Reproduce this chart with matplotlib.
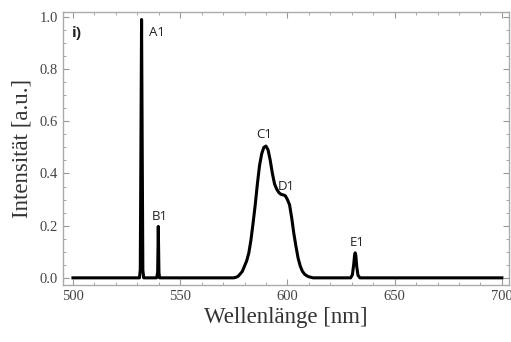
import numpy as np
import matplotlib.pyplot as plt
from matplotlib.ticker import MultipleLocator

# spectrum (wavelength in nm, intensity in a.u.)
wavelength = [500, 531.0, 531.4, 531.7, 532.0, 532.3, 532.6, 533.0,
              539.0, 539.5, 539.8, 540.1, 540.4, 541.0,
              575, 576, 577, 578, 579, 580, 581, 582, 583, 584, 585, 586, 587,
              588, 589, 590, 591, 592, 593, 594, 595, 596, 597, 598, 599, 600,
              601, 602, 603, 604, 605, 606, 607, 608, 609, 610, 611, 612,
              629.5, 630.3, 630.9, 631.3, 631.6, 631.9, 632.3, 632.9, 633.8, 700]
intensity = [0.0, 0.0, 0.03, 0.5, 0.99, 0.5, 0.03, 0.0,
             0.0, 0.02, 0.197, 0.02, 0.0, 0.0,
             0.0, 0.002, 0.006, 0.015, 0.025, 0.045, 0.065, 0.095, 0.145, 0.21,
             0.28, 0.36, 0.43, 0.475, 0.50, 0.505, 0.49, 0.45, 0.40, 0.36, 0.34,
             0.327, 0.32, 0.318, 0.315, 0.30, 0.28, 0.23, 0.17, 0.12, 0.075,
             0.045, 0.025, 0.014, 0.008, 0.004, 0.002, 0.0,
             0.0, 0.012, 0.05, 0.085, 0.096, 0.085, 0.045, 0.01, 0.0, 0.0]

peak_names = ['A1', 'B1', 'C1', 'D1', 'E1']
peak_label_x = [539.0, 540.3, 589.3, 599.5, 632.4]
peak_label_y = [0.94, 0.235, 0.548, 0.35, 0.134]

fig = plt.figure(figsize=(5.11, 3.42), dpi=100)
ax = fig.add_axes([0.123, 0.167, 0.873, 0.798])

ax.plot(wavelength, intensity, color='black', lw=2.2, solid_joinstyle='round')

for name, x, y in zip(peak_names, peak_label_x, peak_label_y):
    ax.text(x, y, name, ha='center', va='center', fontsize=9.5,
            family='Open Sans', color='#222222')
ax.text(502, 0.94, 'i)', ha='center', va='center', fontsize=11,
        family='Open Sans', fontweight='bold', color='#222222')

ax.set_xlim(495.3, 703.3)
ax.set_ylim(-0.027, 1.019)
ax.xaxis.set_major_locator(MultipleLocator(50))
ax.xaxis.set_minor_locator(MultipleLocator(10))
ax.yaxis.set_major_locator(MultipleLocator(0.2))
ax.yaxis.set_minor_locator(MultipleLocator(0.05))
ax.yaxis.set_major_formatter(plt.FuncFormatter(lambda v, p: f'{v:.1f}'))

for s in ax.spines.values():
    s.set_color('#aaaaaa')
    s.set_linewidth(1.0)
ax.tick_params(which='both', direction='in', top=True, right=True,
               color='#999999', labelcolor='#444444')
ax.tick_params(which='major', length=4, width=0.8, labelsize=10.5,
               labelfontfamily='Liberation Serif')
ax.tick_params(which='minor', length=2, width=0.6)

ax.set_xlabel('Wellenlänge [nm]', family='Liberation Serif', fontsize=16.5,
              color='#333333', labelpad=3)
ax.set_ylabel('Intensität [a.u.]', family='Liberation Serif', fontsize=16.5,
              color='#333333', labelpad=5)

fig.savefig('out.png', dpi=100)
